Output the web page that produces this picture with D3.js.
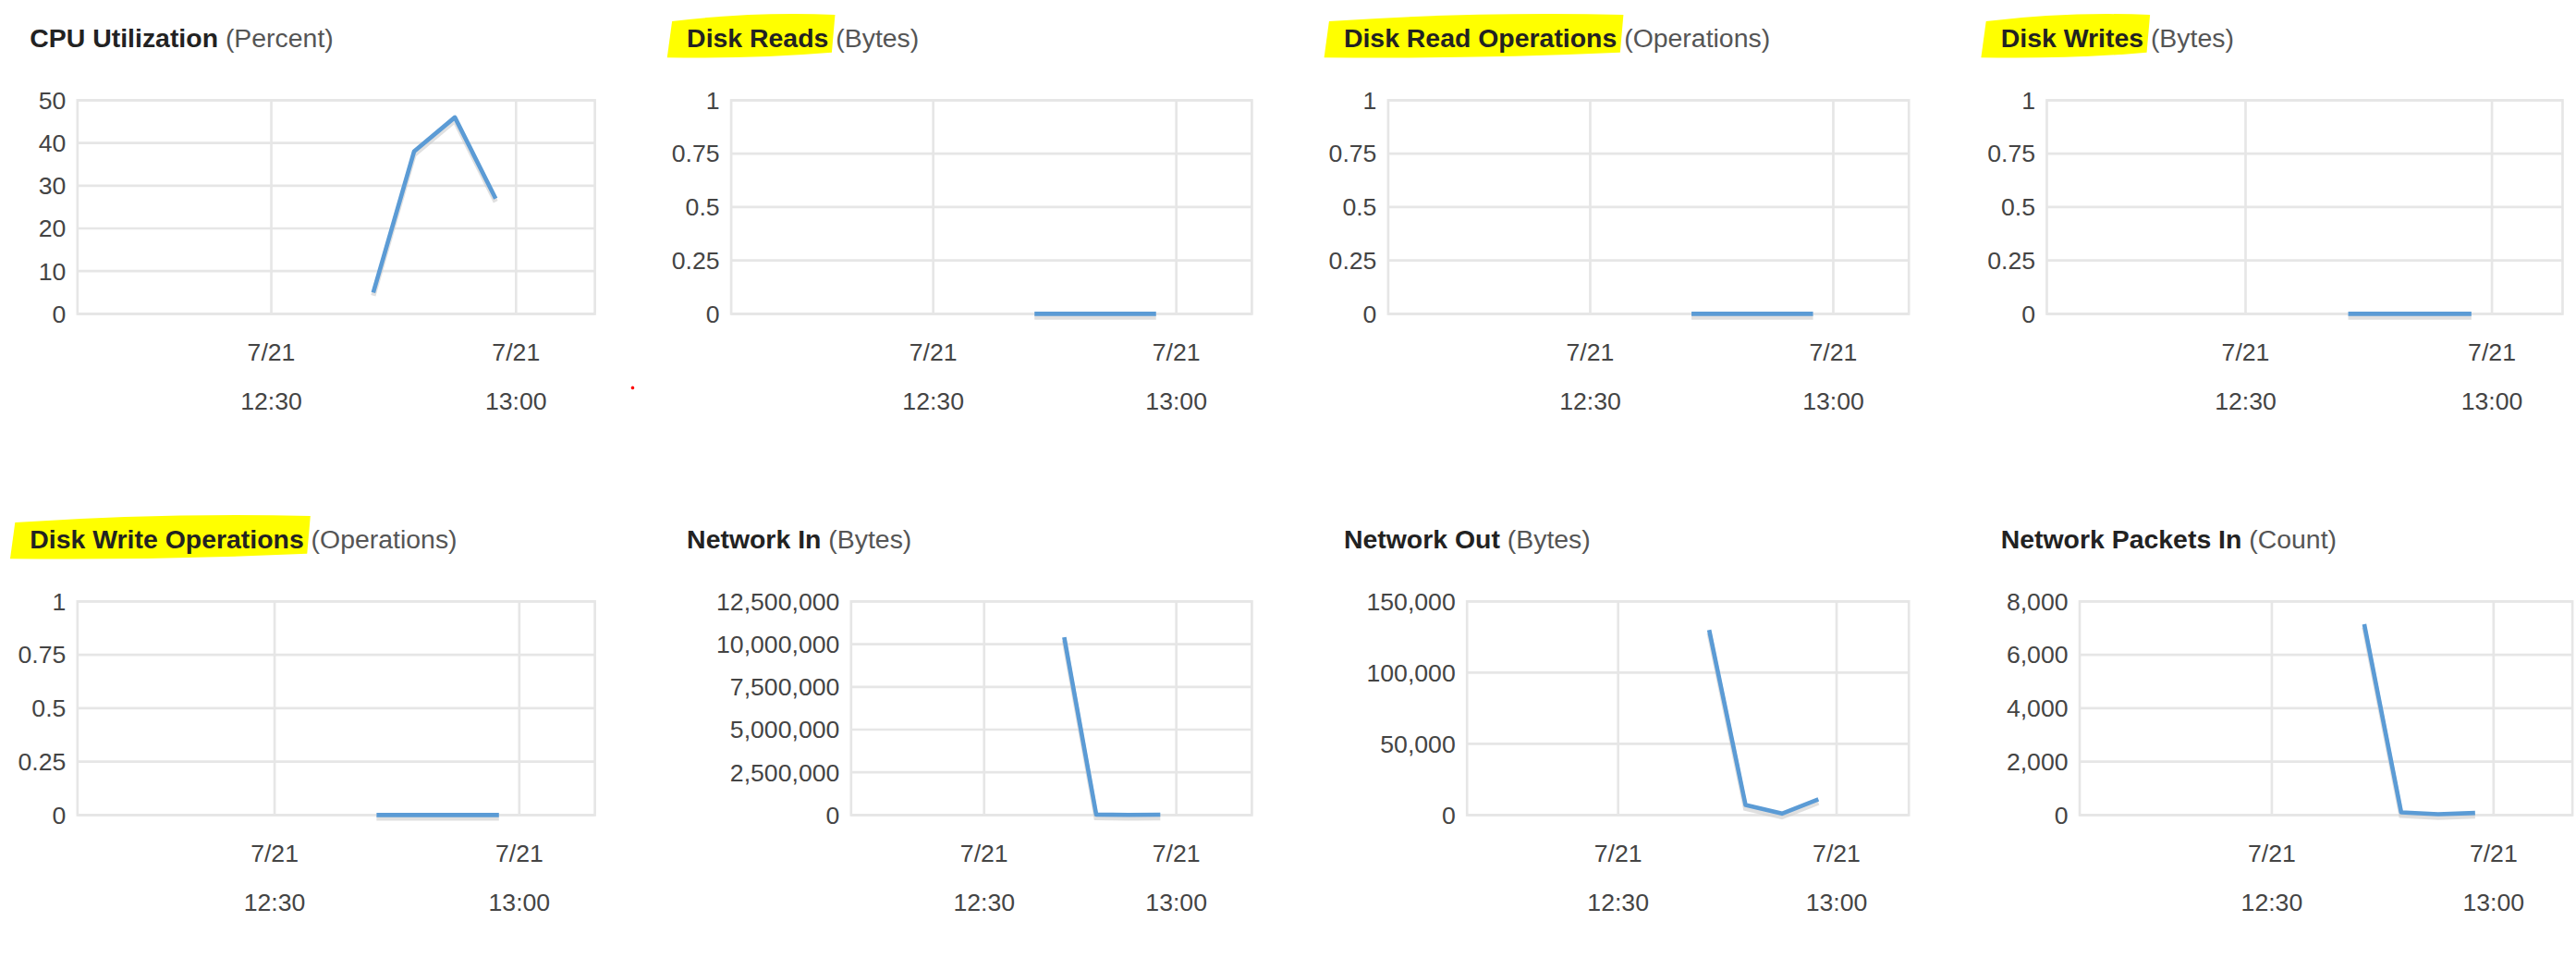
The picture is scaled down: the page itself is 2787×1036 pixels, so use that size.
<!DOCTYPE html>
<html><head><meta charset="utf-8">
<script src="https://cdn.jsdelivr.net/npm/d3@7"></script>
<style>body{margin:0;background:#fff}svg{display:block}</style>
</head><body><svg id="c" width="2787" height="1036" viewBox="0 0 1568 583"></svg>
<script>
const titles = ["CPU Utilization","Disk Reads","Disk Read Operations","Disk Writes","Disk Write Operations","Network In","Network Out","Network Packets In"];
const units = ["(Percent)","(Bytes)","(Operations)","(Bytes)","(Operations)","(Bytes)","(Bytes)","(Count)"];
const highlighted = [false,true,true,true,true,false,false,false];
const times = ["12:42:30","12:47:30","12:52:30","12:57:30"];
const xTickTimes = ["12:30","13:00"];
const xTickDate = "7/21";
const cpuValues = [5,38,46,27];
const diskReadsValues = [0,0,0,0];
const diskReadOpsValues = [0,0,0,0];
const diskWritesValues = [0,0,0,0];
const diskWriteOpsValues = [0,0,0,0];
const networkInValues = [10400000,30000,10000,20000];
const networkOutValues = [130000,7000,1000,11000];
const packetsInValues = [7150,100,30,80];
const cpuTicks = [0,10,20,30,40,50];
const unitTicks = [0,0.25,0.5,0.75,1];
const netInTicks = [0,2500000,5000000,7500000,10000000,12500000];
const netOutTicks = [0,50000,100000,150000];
const packetTicks = [0,2000,4000,6000,8000];

const series = [cpuValues,diskReadsValues,diskReadOpsValues,diskWritesValues,diskWriteOpsValues,networkInValues,networkOutValues,packetsInValues];
const ticks = [cpuTicks,unitTicks,unitTicks,unitTicks,unitTicks,netInTicks,netOutTicks,packetTicks];

// layout (display units)
const layout = [
 {tx:18,ty:23,L:47,R:362,g:[165,314],T:61,B:191},
 {tx:418,ty:23,L:445,R:762,g:[568,716],T:61,B:191},
 {tx:818,ty:23,L:845,R:1162,g:[968,1116],T:61,B:191},
 {tx:1218,ty:23,L:1246,R:1560,g:[1367,1517],T:61,B:191},
 {tx:18,ty:328,L:47,R:362,g:[167,316],T:366,B:496},
 {tx:418,ty:328,L:518,R:762,g:[599,716],T:366,B:496},
 {tx:818,ty:328,L:893,R:1162,g:[985,1118],T:366,B:496},
 {tx:1218,ty:328,L:1266,R:1566,g:[1383,1518],T:366,B:496}
];
const svg = d3.select("#c");
const FONT = "'Liberation Sans', Arial, sans-serif";
const pt = d3.timeParse("%H:%M:%S"), pm = d3.timeParse("%H:%M");
const fmt = v => v===0?"0":(Math.abs(v)>=1000?d3.format(",")(v):String(v));

titles.forEach((t,i)=>{
  const lo = layout[i];
  const g = svg.append("g");
  const text = g.append("text").attr("x",lo.tx).attr("y",lo.ty).attr("dy","0.35em")
    .attr("font-family",FONT).attr("font-size",16);
  text.append("tspan").attr("font-weight","bold").attr("fill","#222").text(t);
  text.append("tspan").attr("fill","#555").text(" "+units[i]);
  if (highlighted[i]) {
    const w = text.select("tspan").node().getComputedTextLength();
    const x0 = lo.tx-12, x1 = lo.tx+w+4, y0 = lo.ty-14, y1 = lo.ty+12;
    g.insert("path","text").attr("fill","#ffff00")
      .attr("d",`M${x0+3},${y0+4} Q${(x0+x1)/2},${y0-2} ${x1},${y0} L${x1-2},${y1-3} Q${(x0+x1)/2},${y1+1} ${x0},${y1} Z`);
  }
  const x = d3.scaleTime().domain(xTickTimes.map(s=>pm(s))).range(lo.g);
  const yt = ticks[i];
  const y = d3.scaleLinear().domain([0,d3.max(yt)]).range([lo.B,lo.T]);
  // frame & grid
  g.append("rect").attr("x",lo.L).attr("y",lo.T).attr("width",lo.R-lo.L).attr("height",lo.B-lo.T)
    .attr("fill","none").attr("stroke","#e6e6e6").attr("stroke-width",1.5);
  g.selectAll(".hy").data(yt).join("line").attr("x1",lo.L).attr("x2",lo.R)
    .attr("y1",d=>y(d)).attr("y2",d=>y(d)).attr("stroke","#e6e6e6").attr("stroke-width",1.5);
  g.selectAll(".vx").data(xTickTimes).join("line").attr("x1",d=>x(pm(d))).attr("x2",d=>x(pm(d)))
    .attr("y1",lo.T).attr("y2",lo.B).attr("stroke","#e6e6e6").attr("stroke-width",1.5);
  g.selectAll(".yl").data(yt).join("text").attr("x",lo.L-7).attr("y",d=>y(d)).attr("dy","0.35em")
    .attr("text-anchor","end").attr("font-family",FONT).attr("font-size",15).attr("fill","#444").text(fmt);
  const xl = g.selectAll(".xl").data(xTickTimes).join("g");
  xl.append("text").attr("x",d=>x(pm(d))).attr("y",lo.B+23).attr("dy","0.35em").attr("text-anchor","middle")
    .attr("font-family",FONT).attr("font-size",15).attr("fill","#444").text(xTickDate);
  xl.append("text").attr("x",d=>x(pm(d))).attr("y",lo.B+53).attr("dy","0.35em").attr("text-anchor","middle")
    .attr("font-family",FONT).attr("font-size",15).attr("fill","#444").text(d=>d);
  const line = d3.line().x((d,k)=>x(pt(times[k]))).y(d=>y(d));
  g.append("path").datum(series[i]).attr("d",line).attr("fill","none")
    .attr("stroke","#ccc").attr("stroke-width",3).attr("opacity",0.6).attr("transform","translate(0,2)");
  g.append("path").datum(series[i]).attr("d",line).attr("fill","none")
    .attr("stroke","#5b9bd5").attr("stroke-width",2.6).attr("stroke-linejoin","round");
});
svg.append("circle").attr("cx",385).attr("cy",236).attr("r",1).attr("fill","red");
</script></body></html>
